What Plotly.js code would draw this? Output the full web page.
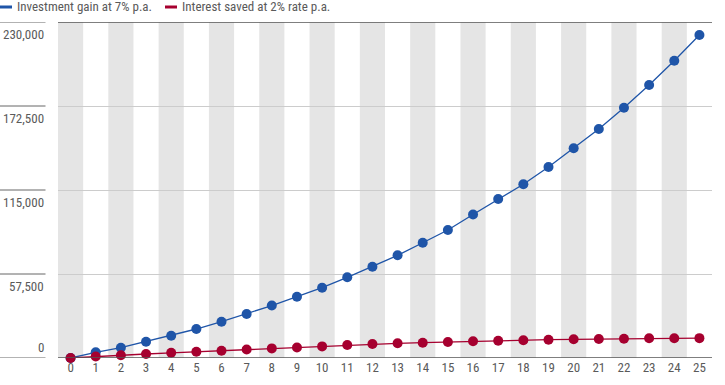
<!DOCTYPE html>
<html><head><meta charset="utf-8">
<script src="https://cdn.plot.ly/plotly-3.0.1.min.js"></script>
<style>html,body{margin:0;padding:0;background:#fff}#chart{width:725px;height:385px}</style>
</head><body><div id="chart"></div>
<script>
const years = [0,1,2,3,4,5,6,7,8,9,10,11,12,13,14,15,16,17,18,19,20,21,22,23,24,25];
const investmentGain = [0,3900,7050,11160,15270,19850,24850,30120,35900,41960,48120,55240,62500,70300,78920,87620,98200,108840,118900,130740,143540,156760,171340,186870,203510,221100];
const interestSaved = [0,1030,1850,2740,3560,4310,5000,5820,6570,7190,7940,8900,9580,10060,10470,10950,11430,11840,12120,12530,12800,13010,13210,13490,13550,13600];
const seriesNames = ["Investment gain at 7% p.a.", "Interest saved at 2% rate p.a."];
const yTicks = [0,57500,115000,172500,230000];
const yTickLabels = ["0","57,500","115,000","172,500","230,000"];

const FONT = '"Liberation Sans Narrow", "Roboto Condensed", Roboto, sans-serif';
const TXT = '#5a5a5a';
const BLUE = '#1f55a8', RED = '#a6002f';
const L = 58, R = 13, T = 22, B = 27, W = 725, H = 385;
const pw = W - L - R, ph = H - T - B;
const px = v => (v - L) / pw;       // pixel x -> paper x
const py = v => (H - B - v) / ph;   // pixel y -> paper y

const shapes = [];
// alternating bands on even categories
years.forEach((y, i) => {
  if (i % 2 === 0) shapes.push({type:'rect', layer:'below', xref:'x', yref:'paper', x0:y-0.5, x1:y+0.5, y0:0, y1:1, fillcolor:'#e5e5e5', line:{width:0}});
});
// gridline stubs in the label area
yTicks.forEach(t => {
  shapes.push({type:'line', xref:'paper', yref:'y', x0:px(0), x1:px(45.5), y0:t, y1:t, line:{color:'#666666', width:1}});
});
// top and bottom dark lines
shapes.push({type:'line', xref:'paper', yref:'y', x0:0, x1:1, y0:yTicks[4], y1:yTicks[4], line:{color:'#555555', width:1.3}});
shapes.push({type:'line', xref:'paper', yref:'y', x0:0, x1:1, y0:0, y1:0, line:{color:'#555555', width:1.3}});
// legend swatches
shapes.push({type:'line', xref:'paper', yref:'paper', x0:px(0), x1:px(12), y0:py(7), y1:py(7), line:{color:BLUE, width:3}});
shapes.push({type:'line', xref:'paper', yref:'paper', x0:px(165), x1:px(177), y0:py(7), y1:py(7), line:{color:RED, width:3}});

const annotations = [];
yTicks.forEach((t, i) => {
  const isZero = t === 0;
  annotations.push({xref:'paper', yref:'y', x:px(46), y:t, xanchor:'right', yanchor: isZero ? 'bottom' : 'top',
    yshift: isZero ? 1 : -3, text:yTickLabels[i], showarrow:false, font:{family:FONT, size:13, color:TXT}});
});
annotations.push({xref:'paper', yref:'paper', x:px(15), y:py(7), xanchor:'left', yanchor:'middle', text:seriesNames[0], showarrow:false, font:{family:FONT, size:13, color:TXT}});
annotations.push({xref:'paper', yref:'paper', x:px(180), y:py(7), xanchor:'left', yanchor:'middle', text:seriesNames[1], showarrow:false, font:{family:FONT, size:13, color:TXT}});

const traces = [
  {x:years, y:investmentGain, name:seriesNames[0], type:'scatter', mode:'lines+markers', cliponaxis:false,
   line:{color:BLUE, width:1.3}, marker:{color:BLUE, size:10}},
  {x:years, y:interestSaved, name:seriesNames[1], type:'scatter', mode:'lines+markers', cliponaxis:false,
   line:{color:RED, width:1.3}, marker:{color:RED, size:10}}
];

const layout = {
  width:W, height:H, margin:{l:L, r:R, t:T, b:B, pad:0},
  paper_bgcolor:'#ffffff', plot_bgcolor:'#ffffff', showlegend:false,
  font:{family:FONT, size:13, color:TXT},
  xaxis:{range:[-0.5,25.5], tickmode:'array', tickvals:years, ticktext:years.map(String),
    showgrid:false, zeroline:false, showline:false, ticks:'', ticklen:0,
    tickfont:{family:FONT, size:13, color:TXT}, fixedrange:true},
  yaxis:{range:[0,230000], tickmode:'array', tickvals:yTicks, showticklabels:false,
    showgrid:true, gridcolor:'#cccccc', gridwidth:1, zeroline:false, showline:false, ticks:'', fixedrange:true},
  shapes:shapes, annotations:annotations
};
Plotly.newPlot('chart', traces, layout, {displayModeBar:false, staticPlot:true});
</script></body></html>
